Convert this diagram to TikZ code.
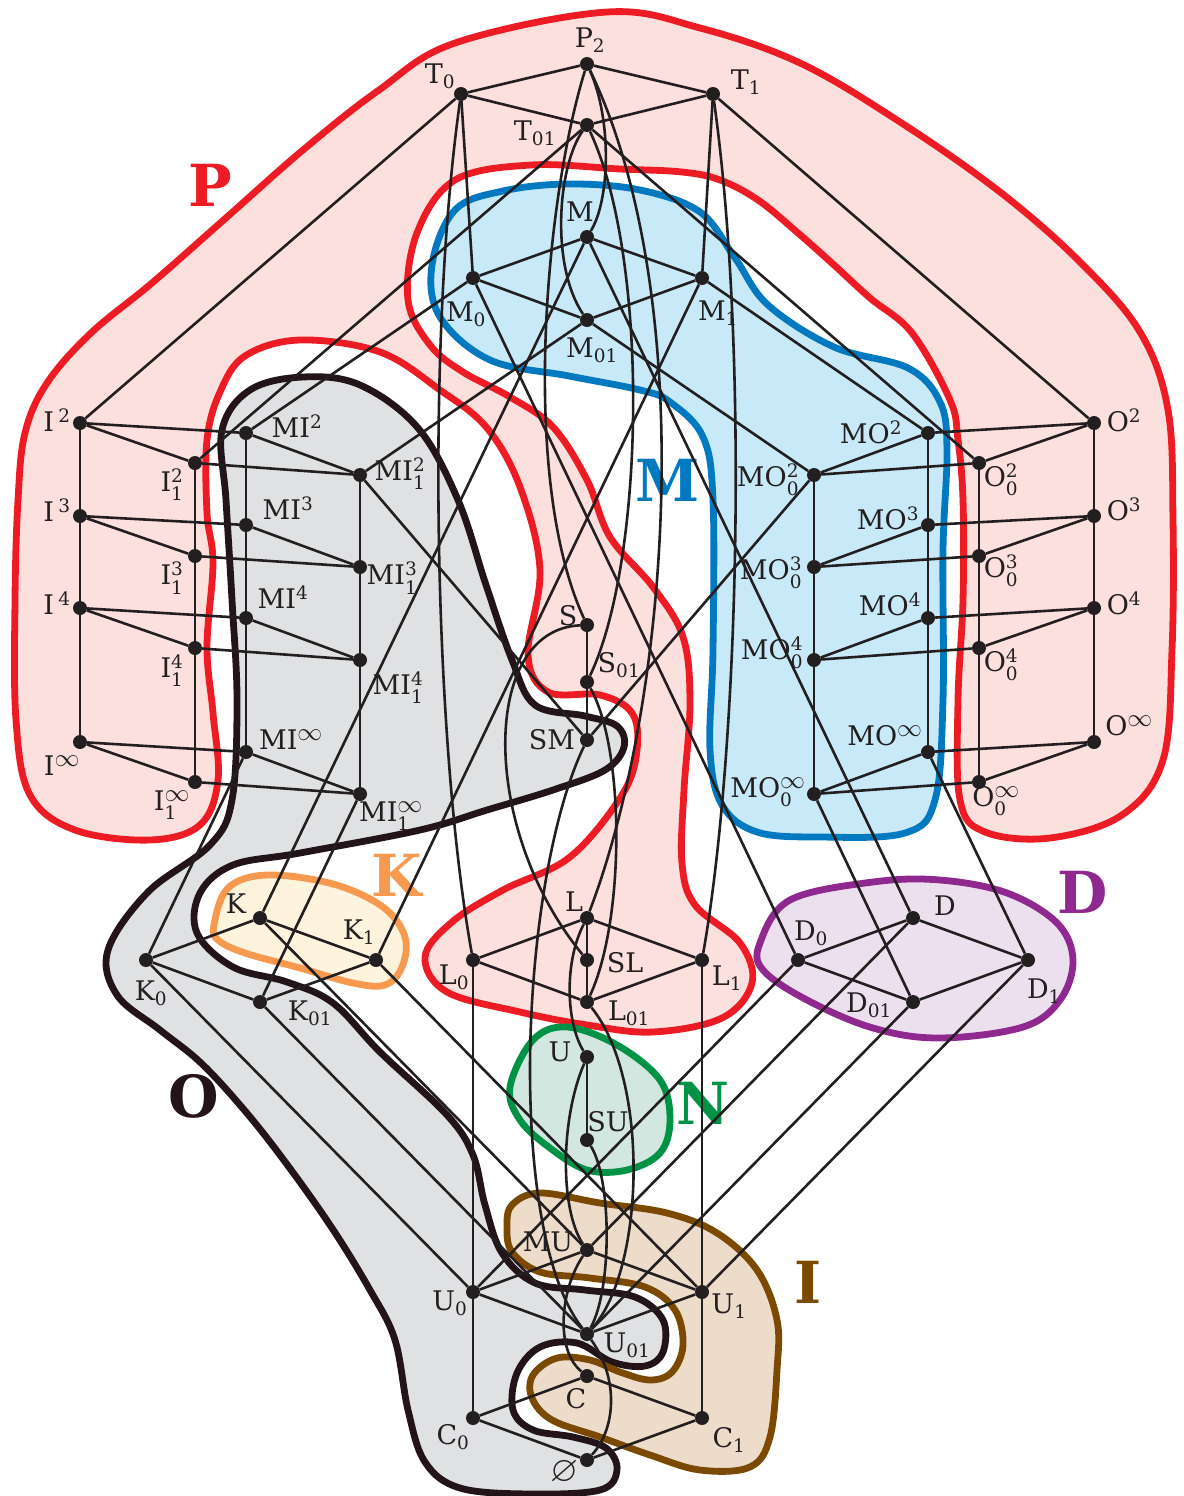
\documentclass[tikz,border=0pt]{standalone}
\usepackage{amssymb}
\usepackage{fontspec}
\setmainfont{DejaVu Serif}
\newfontfamily\bigfont{DejaVu Serif}
\newcommand{\subsz}{\fontsize{18.5}{19}\selectfont}
\newcommand{\infsz}{\fontsize{24}{24}\selectfont}
\newcommand{\lsub}[2]{\mbox{#1}$_{\mbox{\subsz #2}}$}
\newcommand{\lsup}[2]{\mbox{#1}$^{\mbox{\subsz #2}}$}
\newcommand{\lbl}[3]{\mbox{#1}$_{\mbox{\subsz #2}}^{\mbox{\subsz #3}}$}
\newcommand{\inff}{\mbox{\infsz$\infty$}}
\definecolor{ink}{RGB}{35,31,32}
\definecolor{pfill}{RGB}{252,224,222}
\definecolor{pline}{RGB}{237,28,36}
\definecolor{mfill}{RGB}{200,233,248}
\definecolor{mline}{RGB}{0,121,193}
\definecolor{ofill}{RGB}{224,225,227}
\definecolor{oline}{RGB}{35,20,25}
\definecolor{kfill}{RGB}{254,243,220}
\definecolor{kline}{RGB}{247,153,79}
\definecolor{dfill}{RGB}{236,224,238}
\definecolor{dline}{RGB}{143,40,143}
\definecolor{nfill}{RGB}{211,231,225}
\definecolor{nline}{RGB}{0,146,69}
\definecolor{ifill}{RGB}{238,220,203}
\definecolor{iline}{RGB}{123,74,0}
\begin{document}
\begin{tikzpicture}[x=1pt,y=-1pt,
  edge/.style={line width=2.6pt, draw=ink},
  dot/.style={circle, fill=ink, inner sep=0pt, minimum size=14pt},
  lab/.style={font=\fontsize{27}{30}\selectfont, inner sep=0pt, text=ink},
  big/.style={font=\bigfont\fontsize{58}{58}\selectfont\bfseries, inner sep=0pt},
  region/.style={line width=6.8pt, line join=round}]
\useasboundingbox (0,0) rectangle (1183,1496);

% ---------- regions ----------
\filldraw[region, fill=pfill, draw=pline] plot[smooth cycle, tension=0.6] coordinates {
(150,840) (75,830) (30,795) (16,720) (15,600) (18,500) (25,433) (47,383) (91,333) (152,283) (227,217)
(303,150) (379,90) (455,43) (607,12) (700,28) (800,63) (900,122) (1000,192) (1080,262)
(1140,332) (1168,410) (1173,520) (1172,650) (1163,760) (1122,815) (1050,838) (985,832)
(960,800) (958,700) (963,600) (963,500) (958,440) (950,400) (912,333) (870,298) (834,265)
(798,233) (758,200) (720,180) (682,172) (620,169) (531,165) (455,180) (417,233) (408,300)
(430,345) (463,372) (510,397) (553,427) (587,480) (610,537) (653,587) (683,637) (690,703)
(684,790) (682,863) (695,905) (740,943) (752,983) (722,1018) (653,1032) (587,1025) (520,1012)
(447,992) (425,957) (452,922) (503,890) (570,857) (622,795) (637,750) (632,713) (600,695)
(548,692) (528,655) (540,570) (520,487) (487,428) (440,390) (380,352) (300,340) (245,356)
(220,392) (207,440) (207,513) (213,563) (207,647) (213,713) (218,780) (200,825)};

\filldraw[region, fill=mfill, draw=mline] plot[smooth cycle, tension=0.6] coordinates {
(440,317) (432,265) (455,210) (503,191) (569,184) (640,190) (700,212) (735,258) (768,305)
(834,347) (908,368) (940,402) (947,450) (943,550) (943,700) (935,800) (905,833) (820,837)
(757,832) (722,805) (710,750) (713,650) (713,500) (703,437) (670,402) (640,390) (569,376)
(490,360)};

\filldraw[region, fill=ofill, draw=oline] plot[smooth cycle, tension=0.6] coordinates {
(222,430) (250,390) (303,377) (360,385) (418,428) (458,500) (486,585) (512,660) (535,705)
(585,716) (617,726) (624,747) (605,770) (553,790) (487,810) (420,830) (300,853) (233,865)
(200,893) (197,933) (233,967) (287,982) (333,1003) (380,1052) (447,1115) (473,1155)
(485,1205) (502,1253) (535,1283) (585,1290) (635,1297) (663,1320) (663,1352) (645,1366)
(612,1362) (577,1343) (540,1347) (517,1373) (513,1410) (533,1430) (573,1437) (606,1448)
(617,1470) (600,1490) (530,1494) (460,1488) (425,1462) (408,1410) (395,1340) (370,1290)
(330,1225) (280,1155) (240,1105) (200,1062) (160,1030) (117,995) (108,950) (148,892)
(210,845) (232,800) (237,700) (232,600) (226,500)};

\filldraw[region, fill=kfill, draw=kline] plot[smooth cycle, tension=0.6] coordinates {
(214,925) (228,888) (267,875) (333,884) (383,907) (405,937) (402,967) (385,985) (353,983)
(300,968) (245,953) (218,940)};

\filldraw[region, fill=dfill, draw=dline] plot[smooth cycle, tension=0.6] coordinates {
(760,943) (790,900) (873,882) (940,880) (1007,893) (1057,923) (1073,960) (1060,1000)
(1023,1027) (940,1038) (873,1028) (807,1000) (763,970)};

\filldraw[region, fill=nfill, draw=nline] plot[smooth cycle, tension=0.6] coordinates {
(510,1087) (533,1040) (567,1027) (617,1045) (660,1080) (670,1120) (660,1153) (627,1170)
(587,1170) (550,1148) (520,1120)};

\filldraw[region, fill=ifill, draw=iline] plot[smooth cycle, tension=0.6] coordinates {
(533,1375) (532,1398) (552,1420) (600,1437) (650,1455) (700,1470) (750,1467) (770,1437)
(777,1370) (777,1320) (757,1270) (717,1233) (667,1213) (600,1203) (540,1193) (512,1205)
(507,1227) (512,1252) (540,1272) (590,1278) (645,1287) (675,1310) (683,1345) (672,1372)
(650,1380) (620,1372) (590,1360) (557,1358)};

% ---------- big letters ----------
\node[big, text=pline] (bP) at (210,185) {P};
\node[big, text=mline] (bM) at (668,480) {M};
\node[big, text=kline] (bK) at (397,875) {K};
\node[big, text=oline] (bO) at (194,1096) {O};
\node[big, text=nline] (bN) at (703,1103) {N};
\node[big, text=iline] (bI) at (808,1282) {I};
\node[big, text=dline] (bD) at (1083,892) {D};

% ---------- nodes ----------
\foreach \n/\x/\y in {P2/587/64, T0/461/94, T1/713/94, T01/587/125,
  M/587/237, M0/473/278, M1/702/278, M01/587/320,
  I2/80/423, MI2/246/433, I12/195/463, MI12/360/475,
  I3/80/516, MI3/246/525, I13/195/556, MI13/360/567,
  I4/80/608, MI4/246/618, I14/195/648, MI14/360/660,
  Iinf/80/742, MIinf/246/752, I1inf/195/782, MI1inf/360/794,
  O2/1094/423, MO2/928/433, O02/979/463, MO02/814/475,
  O3/1094/516, MO3/928/525, O03/979/556, MO03/814/567,
  O4/1094/608, MO4/928/618, O04/979/648, MO04/814/660,
  Oinf/1094/742, MOinf/928/752, O0inf/979/782, MO0inf/814/794,
  S/587/625, S01/587/682, SM/587/740,
  K/260/918, K1/376/960, K0/146/960, K01/260/1002,
  L/587/918, L0/473/960, SL/587/960, L1/702/960, L01/587/1002,
  D/913/918, D0/798/960, D1/1028/960, D01/913/1002,
  U/587/1057, SU/587/1140, MU/587/1250, U0/473/1292, U1/702/1292, U01/587/1334,
  C/587/1376, C0/473/1418, C1/702/1418, E/587/1460}
  \node[dot] (\n) at (\x,\y) {};

% ---------- straight edges ----------
\foreach \a/\b in {P2/T0, P2/T1, T0/T01, T1/T01, T0/M0, T1/M1, T0/I2, T01/I12, T01/O02, T1/O2,
  M/M0, M/M1, M0/M01, M1/M01, M/K, M/D, M0/D0, M1/K1, M0/MI2, M01/MI12, M01/MO02, M1/MO2,
  I2/MI2, I2/I12, MI2/MI12, I12/MI12, I3/MI3, I3/I13, MI3/MI13, I13/MI13,
  I4/MI4, I4/I14, MI4/MI14, I14/MI14, Iinf/MIinf, Iinf/I1inf, MIinf/MI1inf, I1inf/MI1inf,
  I2/I3, I3/I4, I4/Iinf, I12/I13, I13/I14, I14/I1inf, MI2/MI3, MI3/MI4, MI4/MIinf,
  MI12/MI13, MI13/MI14, MI14/MI1inf,
  O2/MO2, O2/O02, MO2/MO02, O02/MO02, O3/MO3, O3/O03, MO3/MO03, O03/MO03,
  O4/MO4, O4/O04, MO4/MO04, O04/MO04, Oinf/MOinf, Oinf/O0inf, MOinf/MO0inf, O0inf/MO0inf,
  O2/O3, O3/O4, O4/Oinf, O02/O03, O03/O04, O04/O0inf, MO2/MO3, MO3/MO4, MO4/MOinf,
  MO02/MO03, MO03/MO04, MO04/MO0inf,
  MI12/SM, MO02/SM, MIinf/K0, MI1inf/K01, MOinf/D1, MO0inf/D01,
  K/K0, K/K1, K0/K01, K1/K01, D/D0, D/D1, D0/D01, D1/D01,
  K0/U0, K1/U1, K01/U01, K/MU, D0/U0, D1/U1, D01/U01, D/MU,
  S/S01, S01/SM, L/L0, L/L1, L0/L01, L1/L01, L/SL, SL/L01, L0/U0, L1/U1, U/SU,
  MU/U0, MU/U1, U0/U01, U1/U01, U0/C0, U1/C1, C/C0, C/C1, C0/E, C1/E}
  \draw[edge] (\a) -- (\b);

% ---------- curved edges ----------
\draw[edge] (P2) .. controls (612,120) and (610,200) .. (M);
\draw[edge] (T01) .. controls (558,165) and (550,265) .. (M01);
\draw[edge] (P2) .. controls (545,200) and (520,480) .. (S);
\draw[edge] (P2) .. controls (700,300) and (670,700) .. (L);
\draw[edge] (T01) .. controls (650,260) and (645,560) .. (S01);
\draw[edge] (T0) .. controls (425,350) and (435,750) .. (L0);
\draw[edge] (T1) .. controls (749,350) and (739,750) .. (L1);
\draw[edge] (S) .. controls (480,630) and (480,830) .. (SL);
\draw[edge] (S01) .. controls (625,750) and (625,920) .. (L01);
\draw[edge] (SM) .. controls (520,880) and (505,1230) .. (U01);
\draw[edge] (L) .. controls (565,960) and (565,1020) .. (U);
\draw[edge] (L01) .. controls (650,1080) and (645,1270) .. (U01);
\draw[edge] (U) .. controls (560,1120) and (560,1210) .. (MU);
\draw[edge] (SU) .. controls (612,1180) and (612,1290) .. (U01);
\draw[edge] (MU) .. controls (560,1290) and (555,1350) .. (C);
\draw[edge] (U01) .. controls (620,1380) and (615,1430) .. (E);

% ---------- labels ----------
\node[lab] (lP2) at (590,40) {\lsub{P}{2}};
\node[lab] (lT0) at (440,76) {\lsub{T}{0}};
\node[lab] (lT1) at (746,82) {\lsub{T}{1}};
\node[lab] (lT01) at (535,133) {\lsub{T}{01}};
\node[lab] (lM) at (580,212) {M};
\node[lab] (lM0) at (466,314) {\lsub{M}{0}};
\node[lab] (lM1) at (718,313) {\lsub{M}{1}};
\node[lab] (lM01) at (592,350) {\lsub{M}{01}};
\node[lab] (lI2) at (57,420) {\lsup{I\,}{2}};
\node[lab] (lMI2) at (297,426) {\lsup{MI}{2}};
\node[lab] (lI12) at (172,485) {\lbl{I}{1}{2}};
\node[lab] (lMI12) at (400,474) {\lbl{MI}{1}{2}};
\node[lab] (lI3) at (57,510) {\lsup{I\,}{3}};
\node[lab] (lMI3) at (288,508) {\lsup{MI}{3}};
\node[lab] (lI13) at (172,578) {\lbl{I}{1}{3}};
\node[lab] (lMI13) at (392,578) {\lbl{MI}{1}{3}};
\node[lab] (lI4) at (57,603) {\lsup{I\,}{4}};
\node[lab] (lMI4) at (283,597) {\lsup{MI}{4}};
\node[lab] (lI14) at (172,671) {\lbl{I}{1}{4}};
\node[lab] (lMI14) at (398,688) {\lbl{MI}{1}{4}};
\node[lab] (lIinf) at (62,766) {\lsup{I}{\inff}};
\node[lab] (lMIinf) at (291,740) {\lsup{MI}{\inff}};
\node[lab] (lI1inf) at (172,805) {\lbl{I}{1}{\inff}};
\node[lab] (lMI1inf) at (391,816) {\lbl{MI}{1}{\inff}};
\node[lab] (lO2) at (1124,420) {\lsup{O}{2}};
\node[lab] (lMO2) at (871,432) {\lsup{MO}{2}};
\node[lab] (lO02) at (1001,480) {\lbl{O}{0}{2}};
\node[lab] (lMO02) at (768,480) {\lbl{MO}{0}{2}};
\node[lab] (lO3) at (1124,509) {\lsup{O}{3}};
\node[lab] (lMO3) at (888,518) {\lsup{MO}{3}};
\node[lab] (lO03) at (1001,571) {\lbl{O}{0}{3}};
\node[lab] (lMO03) at (771,573) {\lbl{MO}{0}{3}};
\node[lab] (lO4) at (1124,603) {\lsup{O}{4}};
\node[lab] (lMO4) at (890,604) {\lsup{MO}{4}};
\node[lab] (lO04) at (1001,665) {\lbl{O}{0}{4}};
\node[lab] (lMO04) at (772,653) {\lbl{MO}{0}{4}};
\node[lab] (lOinf) at (1129,726) {\lsup{O}{\inff}};
\node[lab] (lMOinf) at (885,736) {\lsup{MO}{\inff}};
\node[lab] (lO0inf) at (996,801) {\lbl{O}{0}{\inff}};
\node[lab] (lMO0inf) at (768,792) {\lbl{MO}{0}{\inff}};
\node[lab] (lS) at (568,616) {S};
\node[lab] (lS01) at (619,665) {\lsub{S}{01}};
\node[lab] (lSM) at (552,740) {SM};
\node[lab] (lL) at (574,902) {L};
\node[lab] (lSL) at (625,963) {SL};
\node[lab] (lL0) at (454,977) {\lsub{L}{0}};
\node[lab] (lL1) at (727,978) {\lsub{L}{1}};
\node[lab] (lL01) at (629,1013) {\lsub{L}{01}};
\node[lab] (lK) at (236,904) {K};
\node[lab] (lK1) at (359,932) {\lsub{K}{1}};
\node[lab] (lK0) at (151,993) {\lsub{K}{0}};
\node[lab] (lK01) at (310,1013) {\lsub{K}{01}};
\node[lab] (lD) at (945,906) {D};
\node[lab] (lD0) at (811,933) {\lsub{D}{0}};
\node[lab] (lD01) at (869,1005) {\lsub{D}{01}};
\node[lab] (lD1) at (1044,991) {\lsub{D}{1}};
\node[lab] (lU) at (560,1052) {U};
\node[lab] (lSU) at (608,1122) {SU};
\node[lab] (lMU) at (548,1242) {MU};
\node[lab] (lU0) at (450,1303) {\lsub{U}{0}};
\node[lab] (lU1) at (729,1306) {\lsub{U}{1}};
\node[lab] (lU01) at (627,1345) {\lsub{U}{01}};
\node[lab] (lC) at (576,1399) {C};
\node[lab] (lC0) at (453,1437) {\lsub{C}{0}};
\node[lab] (lC1) at (729,1440) {\lsub{C}{1}};
\node[lab, font=\fontsize{36}{36}\selectfont] (lE) at (564,1472) {$\varnothing$};
\end{tikzpicture}
\end{document}
